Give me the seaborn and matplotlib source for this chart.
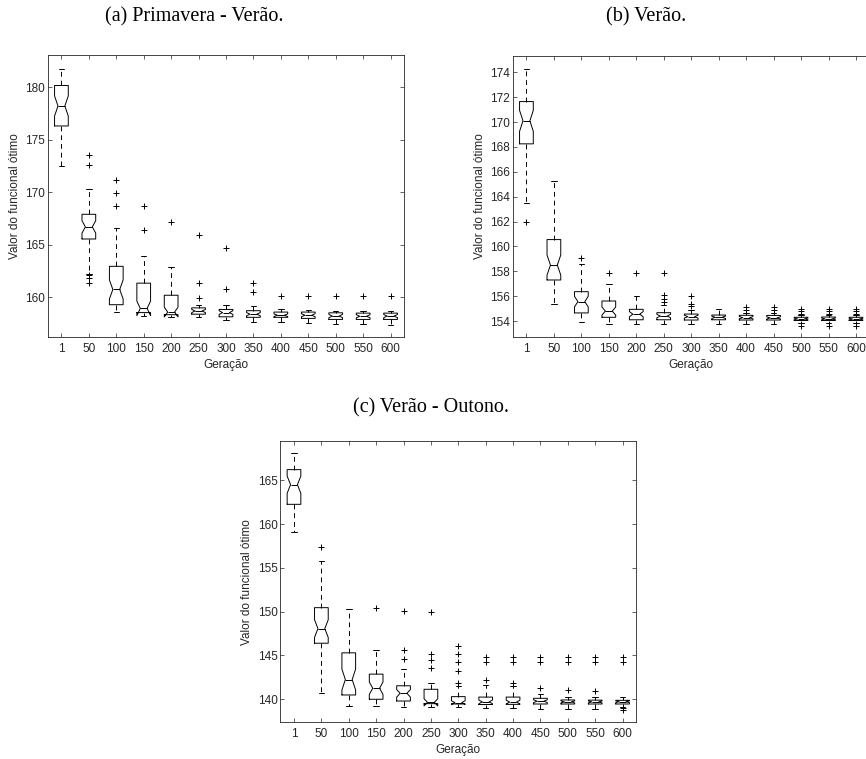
import matplotlib
matplotlib.use("Agg")
import matplotlib.pyplot as plt
import seaborn as sns

sns.set_theme(style="white")
plt.rcParams['font.family'] = ['Liberation Sans', 'DejaVu Sans']

# ---------------- data ----------------
generations = [1, 50, 100, 150, 200, 250, 300, 350, 400, 450, 500, 550, 600]
n_runs = 40  # runs per generation (for notch width)

# (a) Primavera - Verão
a_lo  = [172.5, 162.25, 158.65, 158.2, 158.15, 158.1, 157.8, 157.7, 157.7, 157.55, 157.5, 157.45, 157.4]
a_q1  = [176.3, 165.55, 159.3, 158.55, 158.35, 158.4, 158.15, 158.1, 158.1, 158.0, 157.9, 157.9, 157.9]
a_med = [178.2, 166.7, 160.75, 158.95, 158.6, 158.7, 158.55, 158.4, 158.3, 158.3, 158.22, 158.2, 158.22]
a_q3  = [180.15, 167.9, 162.95, 161.35, 160.2, 159.0, 158.85, 158.73, 158.6, 158.6, 158.53, 158.5, 158.5]
a_hi  = [181.75, 170.35, 166.55, 163.9, 162.85, 159.3, 159.25, 159.14, 158.86, 158.75, 158.66, 158.66, 158.66]
a_out = [[], [173.5, 172.55, 162.15, 161.85, 161.35], [171.2, 169.95, 168.65], [168.65, 166.45],
         [167.2], [165.95, 161.35, 159.95], [164.7, 160.8], [161.33, 160.5], [160.15],
         [160.15], [160.15], [160.15], [160.15]]

# (b) Verão
b_lo  = [163.5, 155.4, 153.95, 153.76, 153.76, 153.76, 153.76, 153.76, 153.76, 153.76, 153.8, 153.8, 153.8]
b_q1  = [168.25, 157.3, 154.65, 154.3, 154.1, 154.1, 154.08, 154.1, 154.08, 154.08, 154.04, 154.04, 154.04]
b_med = [170.1, 158.5, 155.56, 154.8, 154.55, 154.4, 154.35, 154.3, 154.27, 154.25, 154.17, 154.17, 154.16]
b_q3  = [171.65, 160.55, 156.36, 155.61, 154.94, 154.67, 154.56, 154.48, 154.46, 154.45, 154.3, 154.32, 154.3]
b_hi  = [174.25, 165.3, 158.55, 157.0, 156.05, 155.3, 154.9, 155.0, 154.67, 154.62, 154.45, 154.45, 154.45]
b_out = [[162.0], [], [159.05], [157.9], [157.9], [157.9, 156.1, 155.8, 155.5], [156.05, 155.4, 155.2],
         [], [155.1, 154.85], [155.1, 154.85], [155.0, 154.8, 154.6, 153.62],
         [155.0, 154.8, 154.6, 153.62], [155.0, 154.8, 154.6, 153.62]]

# (c) Verão - Outono
c_lo  = [159.1, 140.68, 139.24, 139.24, 139.09, 139.15, 139.09, 139.04, 138.97, 138.9, 138.9, 138.9, 139.1]
c_q1  = [162.26, 146.4, 140.49, 140.0, 139.8, 139.5, 139.46, 139.4, 139.42, 139.46, 139.46, 139.46, 139.46]
c_med = [164.5, 148.07, 142.25, 141.26, 140.68, 139.65, 139.62, 139.7, 139.68, 139.78, 139.7, 139.7, 139.72]
c_q3  = [166.22, 150.46, 145.3, 142.87, 141.54, 141.14, 140.3, 140.25, 140.25, 140.11, 139.92, 139.9, 139.88]
c_hi  = [168.08, 155.83, 150.35, 145.63, 143.45, 141.83, 141.5, 141.6, 141.5, 140.6, 140.3, 140.3, 140.3]
c_out = [[], [157.43], [], [150.37], [150.12, 145.65, 144.6], [149.95, 145.17, 144.45, 143.52],
         [146.05, 145.12, 144.2, 143.22, 141.9], [144.78, 144.3, 142.15], [144.78, 144.3, 141.9],
         [144.78, 144.3, 141.3], [144.78, 144.3, 141.06], [144.78, 144.3, 140.98],
         [144.78, 144.3, 138.95, 138.72]]

captions = ["(a) Primavera - Verão.", "(b) Verão.", "(c) Verão - Outono."]
x_label = "Geração"
y_label = "Valor do funcional ótimo"

# ---------------- drawing ----------------
W, H = 866, 759
fig = plt.figure(figsize=(W / 100, H / 100), dpi=100)
fig.patch.set_facecolor("white")

GREY = "#262626"


def make_stats(lo, q1, med, q3, hi, out):
    stats = []
    for i in range(len(med)):
        half = 1.57 * (q3[i] - q1[i]) / n_runs ** 0.5
        stats.append(dict(med=med[i], q1=q1[i], q3=q3[i], whislo=lo[i], whishi=hi[i],
                          fliers=out[i], cilo=med[i] - half, cihi=med[i] + half))
    return stats


def panel(rect_px, stats, ylim, yticks):
    l, t, r, b = rect_px
    ax = fig.add_axes([l / W, 1 - b / H, (r - l) / W, (b - t) / H])
    ax.set_facecolor("white")
    ax.bxp(stats, positions=list(range(1, len(generations) + 1)), widths=0.5,
           capwidths=0.2, shownotches=True, patch_artist=False,
           boxprops=dict(color="black", linewidth=0.7),
           whiskerprops=dict(color="black", linewidth=0.7, linestyle=(0, (5, 4))),
           capprops=dict(color="black", linewidth=0.7),
           medianprops=dict(color="black", linewidth=0.7),
           flierprops=dict(marker="+", markeredgecolor="black", markersize=5,
                           markeredgewidth=0.7, linestyle="none"))
    ax.set_xlim(0.5, len(generations) + 0.5)
    ax.set_ylim(*ylim)
    ax.set_xticks(list(range(1, len(generations) + 1)))
    ax.set_xticklabels([str(g) for g in generations])
    ax.set_yticks(yticks)
    ax.tick_params(direction="in", length=3, width=0.5, color=GREY, labelcolor=GREY,
                   labelsize=8.5, top=True, right=True, bottom=True, left=True)
    ax.tick_params(axis="x", pad=4)
    ax.tick_params(axis="y", pad=2)
    for s in ax.spines.values():
        s.set_visible(True)
        s.set_color(GREY)
        s.set_linewidth(0.6)
    ax.set_xlabel(x_label, fontsize=8.5, color=GREY, labelpad=3)
    ax.set_ylabel(y_label, fontsize=8.5, color=GREY, labelpad=3)
    ax.grid(False)
    return ax


panel((47.7, 55, 404.3, 337.3), make_stats(a_lo, a_q1, a_med, a_q3, a_hi, a_out),
      (156.2, 183.05), [160, 165, 170, 175, 180])
panel((512.7, 55.7, 869.7, 337.3), make_stats(b_lo, b_q1, b_med, b_q3, b_hi, b_out),
      (152.69, 175.34), list(range(154, 175, 2)))
panel((280.3, 441, 636.3, 722.3), make_stats(c_lo, c_q1, c_med, c_q3, c_hi, c_out),
      (137.37, 169.49), [140, 145, 150, 155, 160, 165])

cap_kw = dict(fontsize=14.5, family=["Liberation Serif", "DejaVu Serif"], color="black",
              va="center", ha="left")
fig.text(105 / W, 1 - 17 / H, captions[0], **cap_kw)
fig.text(606 / W, 1 - 17 / H, captions[1], **cap_kw)
fig.text(353 / W, 1 - 408 / H, captions[2], **cap_kw)

fig.savefig("out.png", dpi=100, facecolor="white")
